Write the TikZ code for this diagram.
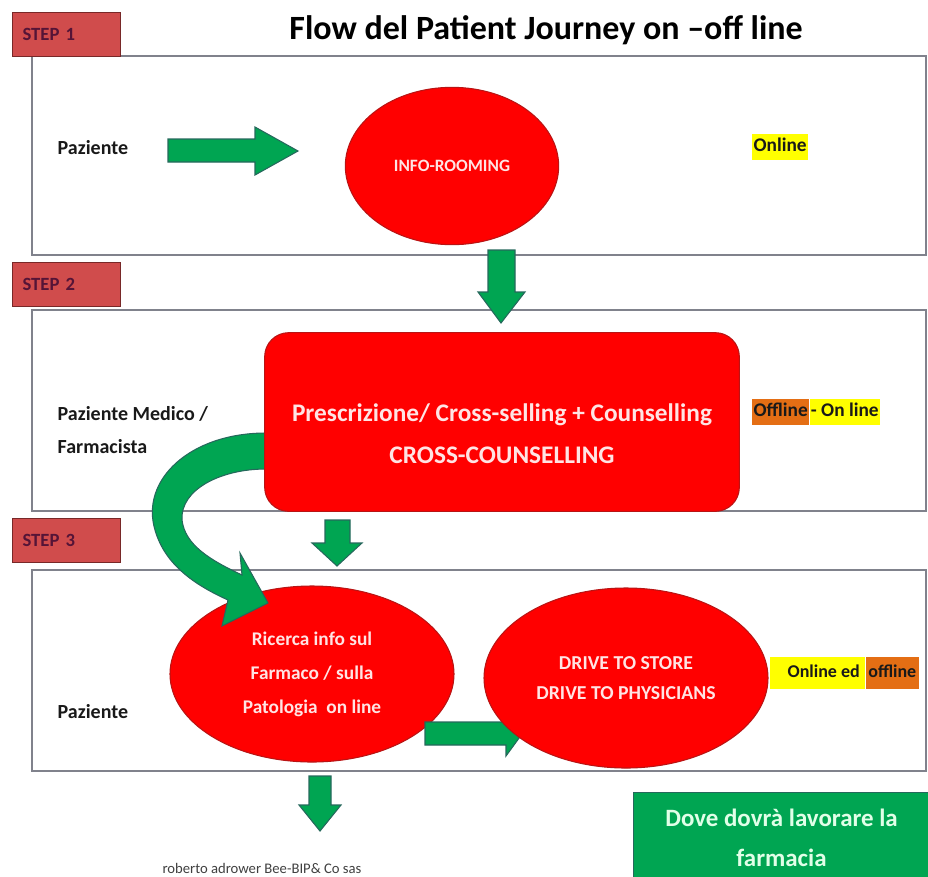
\documentclass[tikz,border=0pt]{standalone}
\usepackage{fontspec}
\setmainfont{Carlito}
\usetikzlibrary{shapes.geometric,positioning}
\definecolor{stepred}{RGB}{208,76,76}
\definecolor{stepedge}{RGB}{120,40,40}
\definecolor{steptext}{RGB}{85,20,55}
\definecolor{shapered}{RGB}{255,0,0}
\definecolor{shapeedge}{RGB}{185,20,20}
\definecolor{pinktext}{RGB}{255,228,228}
\definecolor{arrowgreen}{RGB}{0,165,82}
\definecolor{arrowedge}{RGB}{38,104,92}
\definecolor{panelgray}{RGB}{128,130,140}
\definecolor{hlyellow}{RGB}{255,255,0}
\definecolor{hlorange}{RGB}{228,110,20}
\definecolor{labeltext}{RGB}{25,25,25}
\definecolor{farmtext}{RGB}{225,255,232}
\begin{document}
\begin{tikzpicture}[x=0.75pt,y=-0.75pt,
	every node/.style={font=\bfseries},
	stepbox/.style={draw=stepedge,fill=stepred,text=steptext,line width=0.8pt,
		text width=66pt,inner xsep=7.5pt,align=left,minimum height=33pt,anchor=north west,
		font=\bfseries\fontsize{14}{16}\selectfont},
	panel/.style={draw=panelgray,line width=1.1pt},
	redshape/.style={draw=shapeedge,fill=shapered,text=pinktext,line width=0.8pt,align=center},
	fatarrow/.style={draw=arrowedge,fill=arrowgreen,line width=0.8pt,line join=miter},
	who/.style={anchor=west,text=labeltext,align=left,font=\bfseries\fontsize{15}{25}\selectfont},
	hilite/.style={inner sep=0pt,inner xsep=1pt,inner ysep=1pt,text height=12pt,text depth=6pt,text=labeltext,
		font=\bfseries\fontsize{14.5}{17}\selectfont}]
	\useasboundingbox (0,0) rectangle (928,876);
	% panels
	\draw[panel] (32,56) rectangle (926,255);
	\draw[panel] (32,310) rectangle (926,511);
	\draw[panel] (32,570) rectangle (926,771);
	% step labels
	\node[stepbox] (s1) at (12,12) {STEP 1};
	\node[stepbox] (s2) at (12,262) {STEP 2};
	\node[stepbox] (s3) at (12,518) {STEP 3};
	\node[font=\bfseries\fontsize{25.5}{30}\selectfont] (title) at (546,30) {Flow del Patient Journey on --off line};
	% step 1
	\node[who] (p1) at (53,148) {Paziente};
	\draw[fatarrow] (168,139)--(255,139)--(255,127)--(298,151)--(255,175)--(255,162)--(168,162)--cycle;
	\node[redshape,ellipse,minimum width=160pt,minimum height=118pt,inner sep=0pt,
		font=\bfseries\fontsize{13}{15}\selectfont] (info) at (452,166) {INFO-ROOMING};
	\node[hilite,fill=hlyellow,anchor=west] (on1) at (752,147) {Online};
	\draw[fatarrow] (488,250)--(515,250)--(515,292)--(525,292)--(501,323)--(478,292)--(488,292)--cycle;
	% step 2
	\node[who] (p2) at (53,430) {Paziente Medico /\\Farmacista};
	\node[hilite,fill=hlorange,anchor=west] (off2) at (752,412) {Offline};
	\node[hilite,fill=hlyellow,right=0pt of off2] (on2) {- On line};
	% step 3
	\node[who] (p3) at (53,712) {Paziente};
	\node[redshape,ellipse,minimum width=213pt,minimum height=132pt,inner sep=0pt,
		font=\bfseries\fontsize{14.5}{25.5}\selectfont] (ric) at (312,674) {Ricerca info sul\\Farmaco / sulla\\Patologia~ on line};
	\draw[fatarrow] (266,433) .. controls (190,433) and (140,480) .. (155,530)
		.. controls (165,565) and (195,585) .. (228,600) -- (222,626) -- (268,603) -- (240,553)
		-- (242,575) .. controls (210,560) and (185,545) .. (182,520)
		.. controls (180,490) and (220,469) .. (266,469) -- cycle;
	\node[redshape,rounded corners=18pt,minimum width=356pt,minimum height=134pt,inner sep=0pt] (presc) at (502,422) {};
	\node[text=pinktext,align=center,font=\bfseries\fontsize{19}{31.5}\selectfont] (presctext) at (502,434)
		{Prescrizione/ Cross-selling + Counselling\\CROSS-COUNSELLING};
	\draw[fatarrow] (325,520)--(350,520)--(350,543)--(362,543)--(337,566)--(312,543)--(325,543)--cycle;
	\draw[fatarrow] (425,722)--(506,722)--(506,712)--(522,734)--(506,756)--(506,745)--(425,745)--cycle;
	\node[redshape,ellipse,minimum width=213pt,minimum height=135pt,inner sep=0pt,
		font=\bfseries\fontsize{14.8}{22.5}\selectfont] (drive) at (626,678) {DRIVE TO STORE\\DRIVE TO PHYSICIANS};
	\node[hilite,fill=hlyellow,anchor=west,inner xsep=0pt,text height=14pt,text depth=8pt,
		font=\bfseries\fontsize{13.5}{16}\selectfont] (on3) at (770,673)
		{\hspace*{13pt}Online ed\hspace*{4pt}};
	\node[hilite,fill=hlorange,right=0pt of on3,inner xsep=2pt,text height=14pt,text depth=8pt,
		font=\bfseries\fontsize{13.5}{16}\selectfont] (off3) {offline};
	% bottom
	\draw[fatarrow] (309,776)--(331,776)--(331,805)--(341,805)--(320,831)--(299,805)--(309,805)--cycle;
	\node[text=black!75,font=\fontsize{11}{13}\selectfont,anchor=south,inner sep=0pt] (sign) at (262,874) {roberto adrower Bee-BIP\& Co sas};
	\node[draw=arrowedge,fill=arrowgreen,line width=0.8pt,text=farmtext,anchor=north west,
		minimum width=222pt,minimum height=68pt,align=center,
		font=\bfseries\fontsize{18.7}{30}\selectfont] (farm) at (633,792) {Dove dovrà lavorare la\\farmacia};
\end{tikzpicture}
\end{document}
